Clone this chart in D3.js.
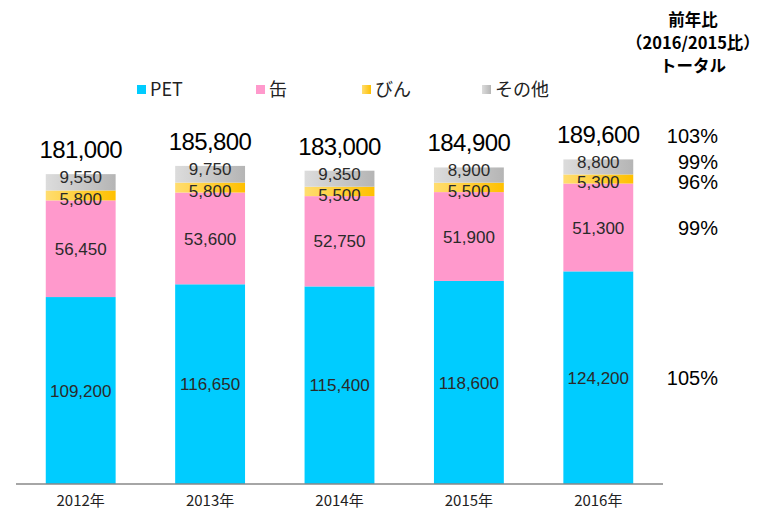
<!DOCTYPE html>
<html>
<head>
<meta charset="utf-8">
<script src="https://cdn.jsdelivr.net/npm/d3@7"></script>
<style>
  body { margin: 0; background: #fff; }
  text { font-family: "Liberation Sans", Arial, "Noto Sans CJK JP", sans-serif; }
  .jp { font-family: "Noto Sans CJK JP", sans-serif; }
</style>
</head>
<body>
<svg id="chart" width="760" height="513"></svg>
<script>
// chart data
const years = ["2012年", "2013年", "2014年", "2015年", "2016年"];
const series = ["PET", "缶", "びん", "その他"];
const petValues = [109200, 116650, 115400, 118600, 124200];
const canValues = [56450, 53600, 52750, 51900, 51300];
const bottleValues = [5800, 5800, 5500, 5500, 5300];
const otherValues = [9550, 9750, 9350, 8900, 8800];
const totals = [181000, 185800, 183000, 184900, 189600];
// 2016 vs 2015 ratios: total, その他, びん, 缶, PET
const ratioLabels = ["103%", "99%", "96%", "99%", "105%"];
const headerLines = ["前年比", "（2016/2015比）", "トータル"];

const svg = d3.select("#chart");
const fmt = d3.format(",");

// gradients for びん / その他
const defs = svg.append("defs");
function hGrad(id, c1, c2) {
  const g = defs.append("linearGradient").attr("id", id)
    .attr("x1", "0%").attr("x2", "100%").attr("y1", "0%").attr("y2", "0%");
  g.append("stop").attr("offset", "0%").attr("stop-color", c1);
  g.append("stop").attr("offset", "100%").attr("stop-color", c2);
}
hGrad("gradBottle", "#FFDD70", "#FFC000");
hGrad("gradOther", "#DCDCDC", "#B5B5B5");

const fills = ["#00CCFF", "#FF99CC", "url(#gradBottle)", "url(#gradOther)"];
// small segments: nudge labels apart a little (PET, 缶, びん, その他)
const labelShift = [0, 0, 3, -5];

const x = d3.scaleBand()
  .domain(years)
  .range([16, 663])
  .paddingInner(0.46)
  .paddingOuter(0.23);

const y = d3.scaleLinear()
  .domain([0, 250000])
  .range([484, 56]);

// build stacked rows
const rows = years.map((yr, i) => ({
  year: yr, PET: petValues[i], "缶": canValues[i], "びん": bottleValues[i], "その他": otherValues[i]
}));
const stacked = d3.stack().keys(series)(rows);

const layers = svg.append("g").selectAll("g")
  .data(stacked)
  .enter().append("g")
  .attr("fill", (d, i) => fills[i]);

layers.selectAll("rect")
  .data(d => d)
  .enter().append("rect")
  .attr("x", d => x(d.data.year))
  .attr("y", d => y(d[1]))
  .attr("width", x.bandwidth())
  .attr("height", d => y(d[0]) - y(d[1]));

// segment labels
layers.selectAll("text")
  .data((d, k) => d.map(v => ({ v, k, val: v[1] - v[0] })))
  .enter().append("text")
  .attr("x", d => x(d.v.data.year) + x.bandwidth() / 2)
  .attr("y", d => (y(d.v[0]) + y(d.v[1])) / 2 + labelShift[d.k])
  .attr("dy", "0.36em")
  .attr("text-anchor", "middle")
  .attr("fill", "#2a2a2a")
  .style("font-size", "17px")
  .text(d => fmt(d.val));

// totals
svg.append("g").selectAll("text")
  .data(years)
  .enter().append("text")
  .attr("x", d => x(d) + x.bandwidth() / 2)
  .attr("y", (d, i) => y(totals[i]) - 16)
  .attr("text-anchor", "middle")
  .attr("fill", "#000")
  .style("font-size", "24px")
  .style("letter-spacing", "-0.6px")
  .text((d, i) => fmt(totals[i]));

// x axis
const xAxis = svg.append("g")
  .attr("transform", "translate(0,484)")
  .call(d3.axisBottom(x).tickSize(0).tickPadding(11));
xAxis.select(".domain").attr("stroke", "#888").attr("stroke-width", 1.5).attr("d", "M16,0H663");
xAxis.selectAll("text")
  .attr("class", "jp")
  .style("font-size", "15px")
  .attr("fill", "#222");

// legend
const legendX = [137, 256, 362, 482];
const legend = svg.append("g").selectAll("g")
  .data(series)
  .enter().append("g")
  .attr("transform", (d, i) => `translate(${legendX[i]},85)`);
legend.append("rect")
  .attr("width", 9).attr("height", 9)
  .attr("fill", (d, i) => fills[i]);
legend.append("text")
  .attr("class", "jp")
  .attr("x", 13).attr("y", 4.5).attr("dy", "0.36em")
  .style("font-size", "18px")
  .attr("fill", "#222")
  .text(d => d);

// year-on-year header
svg.append("g").selectAll("text")
  .data(headerLines)
  .enter().append("text")
  .attr("class", "jp")
  .attr("x", 693)
  .attr("y", (d, i) => 26 + i * 23)
  .attr("text-anchor", "middle")
  .style("font-size", "16.5px")
  .style("font-weight", "bold")
  .attr("fill", "#000")
  .text(d => d);

// ratio labels aligned with the 2016 bar segments
const last = years.length - 1;
const ratioY = [y(totals[last]) - 16 - 8].concat(
  stacked.map((s, k) => (y(s[last][0]) + y(s[last][1])) / 2 + labelShift[k]).reverse()
);
svg.append("g").selectAll("text")
  .data(ratioLabels)
  .enter().append("text")
  .attr("x", 718)
  .attr("y", (d, i) => ratioY[i])
  .attr("dy", "0.36em")
  .attr("text-anchor", "end")
  .style("font-size", "20px")
  .attr("fill", "#000")
  .text(d => d);
</script>
</body>
</html>
